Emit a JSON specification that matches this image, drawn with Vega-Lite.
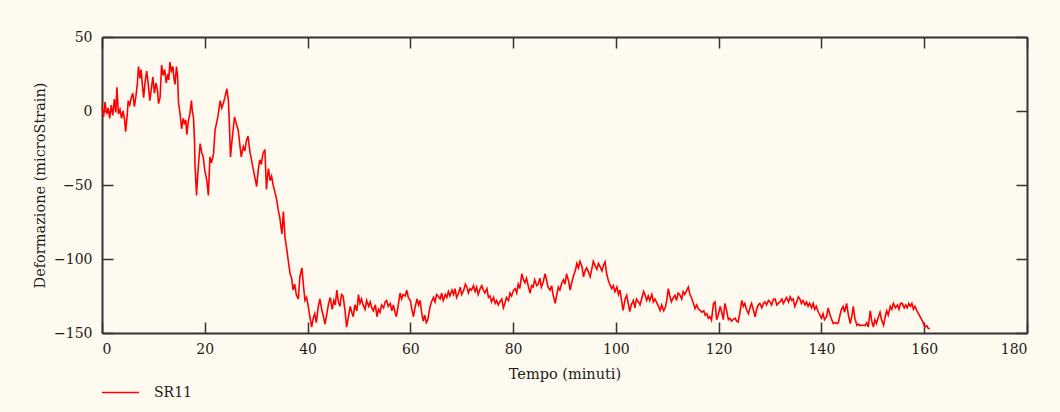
{
  "$schema": "https://vega.github.io/schema/vega-lite/v6.json",
  "width": 925,
  "height": 296,
  "autosize": "none",
  "padding": {"left": 102, "top": 37, "right": 33, "bottom": 79},
  "background": "#fffaf0",
  "config": {
    "view": {"stroke": null},
    "font": "DejaVu Serif",
    "axis": {
      "grid": false,
      "domainColor": "#333333",
      "domainWidth": 2,
      "tickColor": "#333333",
      "tickWidth": 1.5,
      "tickSize": -11,
      "labelFont": "DejaVu Serif",
      "labelFontSize": 14,
      "labelColor": "#1a1a1a",
      "titleFont": "DejaVu Serif",
      "titleFontSize": 14.5,
      "titleFontWeight": "normal",
      "titleColor": "#1a1a1a"
    },
    "legend": {
      "labelFont": "DejaVu Serif",
      "labelFontSize": 14,
      "labelColor": "#1a1a1a"
    }
  },
  "data": {
    "values": [
      {"t":0,"v":3},{"t":0.3,"v":-4},{"t":0.6,"v":6},{"t":0.9,"v":-2},{"t":1.2,"v":2},{"t":1.5,"v":-5},{"t":1.8,"v":4},{"t":2.1,"v":-3},{"t":2.4,"v":8},{"t":2.7,"v":-1},{"t":2.9,"v":16},{"t":3.2,"v":-2},{"t":3.5,"v":1},{"t":3.8,"v":-5},{"t":4.1,"v":0},{"t":4.4,"v":-6},{"t":4.6,"v":-14},{"t":4.9,"v":-3},
      {"t":5.1,"v":7},{"t":5.4,"v":4},{"t":5.7,"v":9},{"t":6.0,"v":12},{"t":6.3,"v":3},{"t":6.6,"v":10},{"t":6.9,"v":19},{"t":7.1,"v":30},{"t":7.4,"v":22},{"t":7.6,"v":28},{"t":7.9,"v":16},{"t":8.1,"v":9},{"t":8.4,"v":20},{"t":8.7,"v":27},{"t":9.0,"v":18},{"t":9.3,"v":7},{"t":9.6,"v":15},{"t":9.9,"v":23},
      {"t":10.2,"v":12},{"t":10.5,"v":19},{"t":10.8,"v":14},{"t":11.0,"v":5},{"t":11.3,"v":9},{"t":11.6,"v":31},{"t":11.9,"v":24},{"t":12.2,"v":28},{"t":12.5,"v":19},{"t":12.8,"v":25},{"t":13.0,"v":21},{"t":13.2,"v":33},{"t":13.5,"v":27},{"t":13.8,"v":30},{"t":14.0,"v":22},{"t":14.2,"v":18},{"t":14.5,"v":30},{"t":14.7,"v":24},{"t":14.9,"v":5},
      {"t":15.2,"v":-2},{"t":15.5,"v":-12},{"t":15.8,"v":-5},{"t":16.1,"v":-9},{"t":16.3,"v":-6},{"t":16.5,"v":-16},{"t":16.8,"v":-7},{"t":17.1,"v":-2},{"t":17.4,"v":7},{"t":17.6,"v":-1},{"t":17.8,"v":-4},{"t":18.0,"v":-20},{"t":18.1,"v":-37},{"t":18.3,"v":-50},{"t":18.4,"v":-57},{"t":18.6,"v":-44},{"t":18.8,"v":-35},
      {"t":19.1,"v":-22},{"t":19.4,"v":-28},{"t":19.7,"v":-31},{"t":20.0,"v":-40},{"t":20.4,"v":-47},{"t":20.7,"v":-57},{"t":21.0,"v":-31},{"t":21.3,"v":-35},{"t":21.7,"v":-29},{"t":22.0,"v":-13},{"t":22.3,"v":-8},{"t":22.6,"v":-3},{"t":23.0,"v":7},{"t":23.3,"v":2},{"t":23.6,"v":5},{"t":23.9,"v":9},{"t":24.3,"v":15},{"t":24.6,"v":7},{"t":24.8,"v":-10},
      {"t":25.0,"v":-31},{"t":25.3,"v":-20},{"t":25.5,"v":-13},{"t":25.8,"v":-4},{"t":26.1,"v":-8},{"t":26.5,"v":-13},{"t":26.8,"v":-22},{"t":27.1,"v":-31},{"t":27.5,"v":-24},{"t":27.8,"v":-27},{"t":28.1,"v":-20},{"t":28.4,"v":-17},{"t":28.8,"v":-28},{"t":29.1,"v":-33},{"t":29.4,"v":-39},{"t":29.7,"v":-44},
      {"t":30.1,"v":-51},{"t":30.4,"v":-40},{"t":30.7,"v":-33},{"t":31.0,"v":-36},{"t":31.3,"v":-29},{"t":31.7,"v":-26},{"t":32.0,"v":-53},{"t":32.2,"v":-44},{"t":32.4,"v":-39},{"t":32.7,"v":-47},{"t":33.0,"v":-44},{"t":33.3,"v":-50},{"t":33.6,"v":-54},{"t":34.0,"v":-60},{"t":34.3,"v":-67},{"t":34.6,"v":-72},
      {"t":35.0,"v":-83},{"t":35.3,"v":-68},{"t":35.6,"v":-85},{"t":35.9,"v":-92},{"t":36.2,"v":-100},{"t":36.6,"v":-110},{"t":36.9,"v":-113},{"t":37.2,"v":-121},{"t":37.5,"v":-117},{"t":37.8,"v":-124},{"t":38.2,"v":-127},{"t":38.5,"v":-112},{"t":38.9,"v":-106},{"t":39.2,"v":-118},{"t":39.5,"v":-128},{"t":39.8,"v":-126},
      {"t":40.1,"v":-131},{"t":40.4,"v":-138},{"t":40.8,"v":-146},{"t":41.1,"v":-140},{"t":41.4,"v":-137},{"t":41.7,"v":-143},{"t":42.1,"v":-132},{"t":42.4,"v":-127},{"t":42.8,"v":-135},{"t":43.1,"v":-139},{"t":43.4,"v":-144},{"t":43.8,"v":-136},{"t":44.1,"v":-130},{"t":44.4,"v":-126},{"t":44.8,"v":-134},
      {"t":45.1,"v":-128},{"t":45.4,"v":-131},{"t":45.7,"v":-121},{"t":46.0,"v":-129},{"t":46.3,"v":-132},{"t":46.6,"v":-124},{"t":46.9,"v":-125},{"t":47.3,"v":-135},{"t":47.6,"v":-146},{"t":48.0,"v":-138},{"t":48.3,"v":-132},{"t":48.6,"v":-136},{"t":48.9,"v":-139},{"t":49.2,"v":-131},{"t":49.6,"v":-135},{"t":49.9,"v":-124},
      {"t":50.2,"v":-130},{"t":50.5,"v":-127},{"t":50.8,"v":-131},{"t":51.2,"v":-134},{"t":51.5,"v":-128},{"t":51.9,"v":-132},{"t":52.2,"v":-129},{"t":52.5,"v":-133},{"t":52.8,"v":-135},{"t":53.2,"v":-131},{"t":53.5,"v":-139},{"t":53.8,"v":-134},{"t":54.1,"v":-136},{"t":54.4,"v":-131},{"t":54.8,"v":-133},
      {"t":55.1,"v":-129},{"t":55.4,"v":-128},{"t":55.7,"v":-132},{"t":56.1,"v":-130},{"t":56.4,"v":-135},{"t":56.7,"v":-131},{"t":57.0,"v":-136},{"t":57.3,"v":-139},{"t":57.7,"v":-130},{"t":58.0,"v":-123},{"t":58.3,"v":-127},{"t":58.6,"v":-124},{"t":59.0,"v":-125},{"t":59.3,"v":-121},{"t":59.6,"v":-126},
      {"t":60.0,"v":-128},{"t":60.3,"v":-134},{"t":60.6,"v":-139},{"t":60.9,"v":-133},{"t":61.3,"v":-127},{"t":61.6,"v":-131},{"t":61.9,"v":-128},{"t":62.2,"v":-136},{"t":62.5,"v":-142},{"t":62.8,"v":-138},{"t":63.1,"v":-143},{"t":63.4,"v":-141},{"t":63.8,"v":-133},{"t":64.1,"v":-129},{"t":64.5,"v":-126},{"t":64.8,"v":-129},
      {"t":65.1,"v":-124},{"t":65.4,"v":-125},{"t":65.8,"v":-127},{"t":66.1,"v":-123},{"t":66.4,"v":-128},{"t":66.8,"v":-124},{"t":67.1,"v":-126},{"t":67.4,"v":-122},{"t":67.7,"v":-125},{"t":68.1,"v":-121},{"t":68.4,"v":-124},{"t":68.7,"v":-120},{"t":69.0,"v":-126},{"t":69.4,"v":-123},{"t":69.7,"v":-119},
      {"t":70.0,"v":-124},{"t":70.4,"v":-121},{"t":70.7,"v":-117},{"t":71.0,"v":-119},{"t":71.3,"v":-123},{"t":71.6,"v":-120},{"t":71.9,"v":-121},{"t":72.3,"v":-118},{"t":72.6,"v":-122},{"t":72.9,"v":-119},{"t":73.2,"v":-124},{"t":73.6,"v":-120},{"t":73.9,"v":-118},{"t":74.2,"v":-121},{"t":74.5,"v":-123},{"t":74.9,"v":-120},
      {"t":75.2,"v":-126},{"t":75.5,"v":-125},{"t":75.8,"v":-129},{"t":76.2,"v":-126},{"t":76.5,"v":-130},{"t":76.8,"v":-128},{"t":77.1,"v":-131},{"t":77.4,"v":-129},{"t":77.8,"v":-127},{"t":78.1,"v":-133},{"t":78.4,"v":-130},{"t":78.7,"v":-126},{"t":79.1,"v":-128},{"t":79.4,"v":-123},{"t":79.7,"v":-125},
      {"t":80.1,"v":-121},{"t":80.4,"v":-120},{"t":80.7,"v":-123},{"t":81.0,"v":-117},{"t":81.3,"v":-120},{"t":81.7,"v":-110},{"t":82.0,"v":-114},{"t":82.3,"v":-116},{"t":82.6,"v":-113},{"t":83.0,"v":-119},{"t":83.3,"v":-123},{"t":83.6,"v":-118},{"t":83.9,"v":-119},{"t":84.2,"v":-114},{"t":84.6,"v":-118},{"t":84.9,"v":-117},
      {"t":85.2,"v":-113},{"t":85.5,"v":-119},{"t":85.9,"v":-115},{"t":86.2,"v":-110},{"t":86.5,"v":-114},{"t":86.8,"v":-119},{"t":87.2,"v":-121},{"t":87.5,"v":-118},{"t":87.8,"v":-124.5},{"t":88.2,"v":-130},{"t":88.5,"v":-124},{"t":88.8,"v":-119},{"t":89.1,"v":-121},{"t":89.5,"v":-116},{"t":89.8,"v":-114},
      {"t":90.1,"v":-117},{"t":90.4,"v":-110},{"t":90.8,"v":-115},{"t":91.1,"v":-121},{"t":91.4,"v":-116},{"t":91.7,"v":-112},{"t":92.1,"v":-108},{"t":92.4,"v":-103},{"t":92.7,"v":-106},{"t":93.0,"v":-101.6},{"t":93.4,"v":-105},{"t":93.7,"v":-112},{"t":94.0,"v":-108},{"t":94.3,"v":-106},{"t":94.7,"v":-109},
      {"t":95.0,"v":-112},{"t":95.3,"v":-107},{"t":95.6,"v":-101.6},{"t":96.0,"v":-105},{"t":96.3,"v":-107},{"t":96.6,"v":-103},{"t":96.9,"v":-105},{"t":97.3,"v":-108},{"t":97.6,"v":-104},{"t":97.9,"v":-102},{"t":98.2,"v":-110},{"t":98.5,"v":-114},{"t":98.8,"v":-117},{"t":99.2,"v":-120},{"t":99.5,"v":-118},{"t":99.8,"v":-122},
      {"t":100.2,"v":-119},{"t":100.5,"v":-124},{"t":100.8,"v":-121},{"t":101.1,"v":-128},{"t":101.4,"v":-134.7},{"t":101.8,"v":-127},{"t":102.1,"v":-124.5},{"t":102.4,"v":-130},{"t":102.7,"v":-135.6},{"t":103.0,"v":-131},{"t":103.4,"v":-128},{"t":103.7,"v":-133},{"t":104.0,"v":-127},{"t":104.4,"v":-129},{"t":104.7,"v":-131},
      {"t":105.0,"v":-127},{"t":105.4,"v":-122},{"t":105.7,"v":-124.5},{"t":106.0,"v":-128},{"t":106.3,"v":-125},{"t":106.6,"v":-128},{"t":107.0,"v":-124},{"t":107.3,"v":-129},{"t":107.6,"v":-127},{"t":108.0,"v":-130},{"t":108.3,"v":-132},{"t":108.6,"v":-134.7},{"t":108.9,"v":-131},{"t":109.3,"v":-135},{"t":109.6,"v":-133},{"t":109.9,"v":-128},
      {"t":110.2,"v":-120},{"t":110.5,"v":-125},{"t":110.8,"v":-129},{"t":111.2,"v":-126},{"t":111.5,"v":-124.5},{"t":111.8,"v":-128},{"t":112.1,"v":-123},{"t":112.4,"v":-124},{"t":112.8,"v":-127},{"t":113.1,"v":-122},{"t":113.4,"v":-124},{"t":113.8,"v":-121},{"t":114.1,"v":-119},{"t":114.4,"v":-124},{"t":114.7,"v":-126},
      {"t":115.1,"v":-130},{"t":115.4,"v":-133.5},{"t":115.7,"v":-131},{"t":116.1,"v":-134},{"t":116.4,"v":-134.7},{"t":116.7,"v":-136},{"t":117.1,"v":-135},{"t":117.4,"v":-138},{"t":117.7,"v":-137},{"t":118.0,"v":-140},{"t":118.3,"v":-139},{"t":118.6,"v":-141.4},{"t":119.0,"v":-130},{"t":119.3,"v":-129},{"t":119.6,"v":-141},{"t":119.9,"v":-138},
      {"t":120.3,"v":-132},{"t":120.6,"v":-136},{"t":120.9,"v":-141},{"t":121.2,"v":-130},{"t":121.5,"v":-134},{"t":121.9,"v":-141},{"t":122.2,"v":-140},{"t":122.5,"v":-142},{"t":122.8,"v":-141},{"t":123.2,"v":-140},{"t":123.5,"v":-142},{"t":123.8,"v":-142.6},{"t":124.1,"v":-137},{"t":124.5,"v":-128},{"t":124.8,"v":-132},
      {"t":125.1,"v":-130},{"t":125.4,"v":-134},{"t":125.8,"v":-137},{"t":126.1,"v":-133},{"t":126.4,"v":-130},{"t":126.8,"v":-135},{"t":127.1,"v":-139},{"t":127.4,"v":-134},{"t":127.7,"v":-131},{"t":128.0,"v":-130},{"t":128.4,"v":-133},{"t":128.7,"v":-130},{"t":129.0,"v":-129},{"t":129.3,"v":-131},{"t":129.7,"v":-128},
      {"t":130.0,"v":-129},{"t":130.3,"v":-131},{"t":130.7,"v":-127},{"t":131.0,"v":-127},{"t":131.3,"v":-131},{"t":131.6,"v":-130},{"t":131.9,"v":-129},{"t":132.3,"v":-127},{"t":132.6,"v":-130},{"t":132.9,"v":-128},{"t":133.2,"v":-126},{"t":133.6,"v":-129},{"t":133.9,"v":-125.6},{"t":134.2,"v":-128},{"t":134.5,"v":-127},{"t":134.8,"v":-132},
      {"t":135.2,"v":-129},{"t":135.5,"v":-125.6},{"t":135.8,"v":-127},{"t":136.1,"v":-130},{"t":136.4,"v":-128},{"t":136.8,"v":-131},{"t":137.1,"v":-129},{"t":137.4,"v":-132},{"t":137.7,"v":-130},{"t":138.1,"v":-133},{"t":138.4,"v":-130},{"t":138.7,"v":-134},{"t":139.0,"v":-132},{"t":139.3,"v":-135},{"t":139.7,"v":-138},
      {"t":140.0,"v":-140},{"t":140.3,"v":-137},{"t":140.6,"v":-141},{"t":141.0,"v":-139},{"t":141.3,"v":-133},{"t":141.6,"v":-137},{"t":141.9,"v":-140},{"t":142.3,"v":-143.6},{"t":142.6,"v":-143},{"t":143.0,"v":-143.6},{"t":143.3,"v":-143},{"t":143.6,"v":-138},{"t":143.9,"v":-134},{"t":144.2,"v":-132},{"t":144.5,"v":-136},{"t":144.9,"v":-130},
      {"t":145.2,"v":-137},{"t":145.6,"v":-143.6},{"t":145.9,"v":-139},{"t":146.2,"v":-132},{"t":146.5,"v":-140},{"t":146.9,"v":-144.8},{"t":147.2,"v":-144},{"t":147.5,"v":-145},{"t":147.9,"v":-144.8},{"t":148.2,"v":-144.8},{"t":148.5,"v":-145},{"t":148.8,"v":-143},{"t":149.1,"v":-146},{"t":149.5,"v":-135},{"t":149.8,"v":-142},
      {"t":150.1,"v":-146},{"t":150.4,"v":-141},{"t":150.7,"v":-143.6},{"t":151.1,"v":-139},{"t":151.4,"v":-136},{"t":151.7,"v":-141},{"t":152.1,"v":-144.8},{"t":152.4,"v":-139},{"t":152.7,"v":-135},{"t":153.0,"v":-138},{"t":153.4,"v":-132},{"t":153.7,"v":-134},{"t":154.0,"v":-130},{"t":154.4,"v":-133},{"t":154.8,"v":-131},
      {"t":155.1,"v":-134},{"t":155.4,"v":-130},{"t":155.7,"v":-130},{"t":156.1,"v":-133},{"t":156.4,"v":-131},{"t":156.7,"v":-133},{"t":157.0,"v":-130},{"t":157.3,"v":-132},{"t":157.6,"v":-130},{"t":157.9,"v":-134},{"t":158.2,"v":-132},{"t":158.6,"v":-135},{"t":158.9,"v":-137},{"t":159.2,"v":-139},{"t":159.5,"v":-141},{"t":159.8,"v":-143},
      {"t":160.1,"v":-146},{"t":160.5,"v":-145},{"t":160.8,"v":-147},{"t":161.1,"v":-147}
    ]
  },
  "layer": [
    {
      "mark": {"type": "line", "strokeWidth": 1.6, "interpolate": "linear"},
      "encoding": {
        "x": {
          "field": "t",
          "type": "quantitative",
          "scale": {"domain": [0, 180], "nice": false, "zero": false},
          "axis": {
            "orient": "bottom",
            "title": "Tempo (minuti)",
            "values": [0, 20, 40, 60, 80, 100, 120, 140, 160, 180],
            "labelPadding": 20,
            "titlePadding": 11
          }
        },
        "y": {
          "field": "v",
          "type": "quantitative",
          "scale": {"domain": [-150, 50], "nice": false, "zero": false},
          "axis": {
            "orient": "left",
            "title": "Deformazione (microStrain)",
            "values": [-150, -100, -50, 0, 50],
            "labelPadding": 21,
            "titlePadding": 6
          }
        },
        "color": {
          "datum": "SR11",
          "type": "nominal",
          "scale": {"range": ["#ff0000"]},
          "legend": {
            "title": null,
            "orient": "none",
            "legendX": -1,
            "legendY": 336,
            "symbolType": "stroke",
            "symbolSize": 1369,
            "symbolStrokeWidth": 1.5,
            "labelOffset": 14
          }
        }
      }
    },
    {
      "mark": {"type": "line", "opacity": 0},
      "encoding": {
        "x": {
          "field": "t",
          "type": "quantitative",
          "scale": {"domain": [0, 180], "nice": false, "zero": false},
          "axis": {
            "orient": "top",
            "title": null,
            "labels": false,
            "values": [0, 20, 40, 60, 80, 100, 120, 140, 160, 180]
          }
        },
        "y": {
          "field": "v",
          "type": "quantitative",
          "scale": {"domain": [-150, 50], "nice": false, "zero": false},
          "axis": {
            "orient": "right",
            "title": null,
            "labels": false,
            "values": [-150, -100, -50, 0, 50]
          }
        }
      }
    }
  ],
  "resolve": {"axis": {"x": "independent", "y": "independent"}}
}
